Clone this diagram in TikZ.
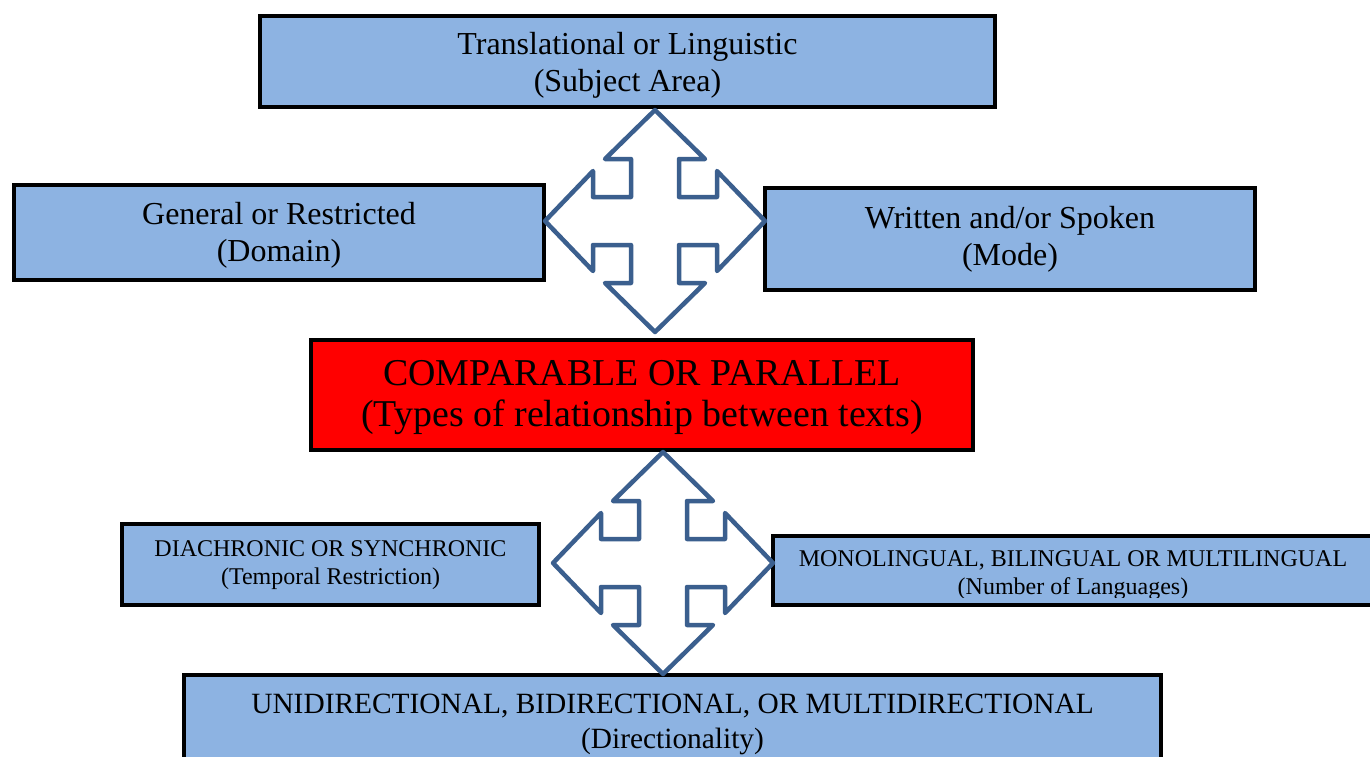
\documentclass[tikz,border=0pt]{standalone}
\usepackage{fontspec}
\setmainfont{Liberation Serif}
\definecolor{boxblue}{HTML}{8DB3E2}
\definecolor{arrowblue}{HTML}{3B5F8E}
\definecolor{boxred}{HTML}{FF0000}
\tikzset{
  panel/.style={draw=black, line width=4pt, fill=boxblue, inner sep=0pt},
  keypanel/.style={panel, fill=boxred},
  caption/.style={align=center, inner sep=0pt},
  largetext/.style={caption, font=\fontsize{32}{37}\selectfont},
  hugetext/.style={caption, font=\fontsize{37.9}{41}\selectfont},
  smalltext/.style={caption, font=\fontsize{24}{28}\selectfont},
  widetext/.style={caption, font=\fontsize{29.4}{35}\selectfont},
  arrowline/.style={draw=arrowblue, fill=white, line width=4.5pt, line join=round},
  % four-headed block arrow: shaft half-width 24, head base at 62, head half-width 50, tip at 111
  cross arrow/.pic={
    \draw[arrowline] (0,-111) -- (50,-62) -- (24,-62) -- (24,-24) -- (62,-24) -- (62,-50)
      -- (110,0) -- (62,50) -- (62,24) -- (24,24) -- (24,62) -- (50,62)
      -- (0,111) -- (-50,62) -- (-24,62) -- (-24,24) -- (-62,24) -- (-62,50)
      -- (-110,0) -- (-62,-50) -- (-62,-24) -- (-24,-24) -- (-24,-62) -- (-50,-62) -- cycle;
  }
}
\begin{document}
\begin{tikzpicture}[x=1pt,y=-1pt]
\useasboundingbox (0,0) rectangle (1370,756);
\clip (0,0) rectangle (1370,756);

% upper group
\node[panel, minimum width=735pt, minimum height=91pt] (subject) at (627.5,61.5) {};
\node[largetext] (subjecttext) at ([yshift=-4pt]subject.center)
  {Translational or Linguistic\\(Subject Area)};
\node[panel, minimum width=530pt, minimum height=95pt] (domain) at (279,232.5) {};
\node[largetext] (domaintext) at ([yshift=-2.5pt]domain.center)
  {General or Restricted\\(Domain)};
\node[panel, minimum width=490pt, minimum height=102pt] (mode) at (1010,239) {};
\node[largetext] (modetext) at (mode.center)
  {Written and/or Spoken\\(Mode)};

% central box
\node[keypanel, minimum width=662pt, minimum height=110pt] (relation) at (642,395) {};
\node[hugetext] (relationtext) at ([yshift=-2.5pt]relation.center)
  {COMPARABLE OR PARALLEL\\(Types of relationship between texts)};

% lower group
\node[panel, minimum width=417pt, minimum height=81pt] (temporal) at (330.5,564.5) {};
\node[smalltext] (temporaltext) at ([yshift=-1pt]temporal.center)
  {DIACHRONIC OR SYNCHRONIC\\(Temporal Restriction)};
\node[panel, minimum width=600pt, minimum height=69pt] (languages) at (1073,570.5) {};
\begin{scope}
  \clip (languages.north west) rectangle ([yshift=10pt]languages.south east);
  \node[smalltext] (languagestext) at ([yshift=-5pt]languages.center)
    {MONOLINGUAL, BILINGUAL OR MULTILINGUAL\\(Number of Languages)};
\end{scope}
\node[panel, minimum width=977pt, minimum height=90pt] (direction) at (672.5,720) {};
\node[widetext] (directiontext) at ([yshift=-4pt]direction.center)
  {UNIDIRECTIONAL, BIDIRECTIONAL, OR MULTIDIRECTIONAL\\(Directionality)};

% four-way arrows linking the groups to the central box
\coordinate (upperhub) at (655,221);
\coordinate (lowerhub) at (663,563);
\pic at (upperhub) {cross arrow};
\pic at (lowerhub) {cross arrow};
\end{tikzpicture}
\end{document}
